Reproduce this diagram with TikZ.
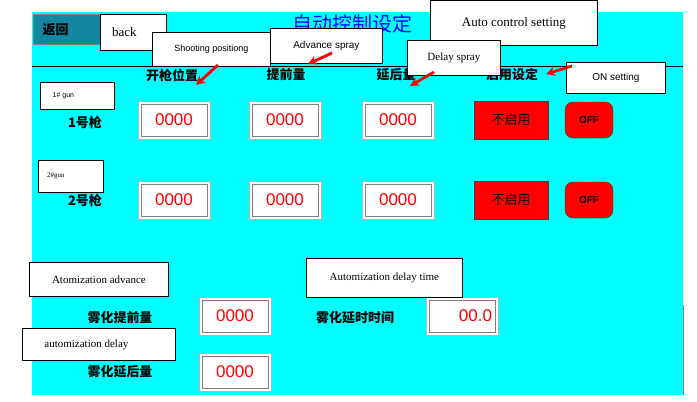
\documentclass[tikz,border=0pt]{standalone}
\usepackage{fontspec}
\setmainfont{Liberation Serif}
\setsansfont{Liberation Sans}
\newfontfamily\cjk{Noto Sans CJK SC}
\usetikzlibrary{positioning,arrows.meta}

\definecolor{panel}{RGB}{0,255,255}
\definecolor{backteal}{RGB}{20,135,160}

\tikzset{
  note/.style={draw=black, fill=white, thick, anchor=north west, inner sep=0pt},
  valbox/.style={draw=gray!60, fill=white, minimum width=72pt, minimum height=38pt, text=red,
    font=\sffamily\fontsize{17}{17}\selectfont},
  head/.style={font=\cjk\bfseries\fontsize{13}{13}\selectfont},
  pointer/.style={-{Stealth[length=9pt,width=9pt]}, red, line width=2.8pt},
}

\begin{document}
\begin{tikzpicture}[x=1pt,y=-1pt]
\useasboundingbox (0,0) rectangle (697,402);
\fill[white] (0,0) rectangle (697,402);

% panel
\fill[panel] (32,12) rectangle (683,395);
\draw[thick] (32,66) -- (683,66);
\draw[gray] (683,305) -- (683,395);

% back button
\node[draw=gray, fill=backteal, minimum width=67pt, minimum height=30pt, anchor=north west, head] (backbtn) at (33,14) {返回\hspace*{22pt}};
\node[text=blue, font=\cjk\fontsize{20}{20}\selectfont] (title) at (352,24) {自动控制设定};

% column heads
\node[head] (hpos) at (172,75) {开枪位置};
\node[head] (hadv) at (286,75) {提前量};
\node[head] (hdel) at (396,75) {延后量};
\node[head] (hon) at (512,75) {启用设定};

% rows
\node[head] (gun1) at (85,122) {1号枪};
\node[head] (gun2) at (85,200) {2号枪};
\foreach \r/\y in {1/120, 2/200} {
  \node[valbox] (p\r) at (174,\y) {0000};
  \node[valbox] (a\r) at (285,\y) {0000};
  \node[valbox] (d\r) at (398,\y) {0000};
  \node[draw=gray!50!black, thick, fill=red, minimum width=74pt, minimum height=38pt, font=\cjk\fontsize{13}{13}\selectfont] (e\r) at (511,\y) {不启用};
  \node[draw=green!40!black, fill=red, rounded corners=8pt, minimum width=48pt, minimum height=36pt, font=\sffamily\bfseries\fontsize{10}{10}\selectfont] (o\r) at (589,\y) {OFF};
}

% atomization
\node[head] (atadv) at (120,318) {雾化提前量};
\node[valbox] (atadvv) at (235,316) {0000};
\node[head] (atdt) at (355,318) {雾化延时时间};
\node[valbox, text width=60pt, align=right] (atdtv) at (462,316) {00.0};
\node[head] (atdel) at (120,372) {雾化延后量};
\node[valbox] (atdelv) at (235,372) {0000};

% inner frames of value boxes
\foreach \b in {p1,a1,d1,p2,a2,d2,atadvv,atdtv,atdelv}
  \draw[gray] ([shift={(3pt,-3pt)}]\b.north west) rectangle ([shift={(-3pt,3pt)}]\b.south east);

% notes
\node[note, minimum width=66pt, minimum height=36pt, font=\fontsize{13}{13}\selectfont] (nback) at (100,14) {back\hspace*{18pt}};
\node[note, minimum width=118pt, minimum height=34pt, font=\sffamily\fontsize{9}{9}\selectfont] (npos) at (152,32) {Shooting positiong};
\node[note, minimum width=112pt, minimum height=35pt, font=\sffamily\fontsize{10}{10}\selectfont] (nadv) at (270,28) {Advance spray};
\node[note, minimum width=167pt, minimum height=45pt, font=\fontsize{13}{13}\selectfont] (nauto) at (430,0) {Auto control setting};
\node[note, minimum width=93pt, minimum height=35pt, font=\fontsize{11}{11}\selectfont] (ndel) at (407,40) {Delay spray};
\node[note, minimum width=99pt, minimum height=31pt, font=\sffamily\fontsize{10}{10}\selectfont] (non) at (566,62) {ON setting};
\node[note, minimum width=74pt, minimum height=27pt, font=\sffamily\fontsize{7}{7}\selectfont] (ngun1) at (40,82) {1\# gun\hspace*{28pt}};
\node[note, minimum width=65pt, minimum height=32pt, font=\fontsize{7}{7}\selectfont] (ngun2) at (38,160) {2\#gun\hspace*{30pt}};
\node[note, minimum width=139pt, minimum height=34pt, font=\fontsize{11}{11}\selectfont] (natadv) at (29,262) {Atomization advance};
\node[note, minimum width=156pt, minimum height=39pt, font=\fontsize{11}{11}\selectfont] (natdt) at (306,258) {Automization delay time};
\node[note, minimum width=153pt, minimum height=32pt, font=\fontsize{11}{11}\selectfont] (natdel) at (22,328) {automization delay\hspace*{25pt}};

% arrows
\coordinate (spos) at (218,65);
\coordinate (tpos) at (196,85);
\coordinate (sadv) at (332,53);
\coordinate (tadv) at (308,64);
\coordinate (sdel) at (434,72);
\coordinate (tdel) at (410,86);
\coordinate (son) at (572,66);
\coordinate (ton) at (546,74);
\draw[pointer] (spos) -- (tpos);
\draw[pointer] (sadv) -- (tadv);
\draw[pointer] (sdel) -- (tdel);
\draw[pointer] (son) -- (ton);
\end{tikzpicture}
\end{document}
